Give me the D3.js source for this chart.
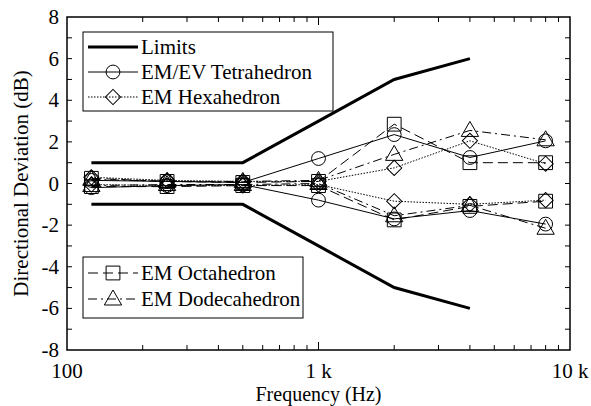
<!DOCTYPE html>
<html>
<head>
<meta charset="utf-8">
<script src="https://cdn.jsdelivr.net/npm/d3@7"></script>
<style>
  body { margin: 0; background: #fff; }
  svg text { font-family: "Times New Roman", Times, "Liberation Serif", "Nimbus Roman", "DejaVu Serif", "Noto Serif", serif; }
</style>
</head>
<body>
<svg id="chart" width="591" height="406"></svg>
<script>
// frequencies of the measured bands (Hz)
var freqs = [125, 250, 500, 1000, 2000, 4000, 8000];

// limit curves (dB)
var limitFreqs = [125, 250, 500, 1000, 2000, 4000];
var limitUpper = [1, 1, 1, 3, 5, 6];
var limitLower = [-1, -1, -1, -3, -5, -6];

// max / min directional deviation for each source (dB)
var tetraUpper = [0.15, 0.1, 0.05, 1.2, 2.35, 1.25, 2.05];
var tetraLower = [-0.2, -0.1, -0.05, -0.8, -1.7, -1.3, -1.95];
var hexaUpper = [0.3, 0.15, 0.1, 0.1, 0.75, 2.05, 0.95];
var hexaLower = [-0.05, -0.1, -0.1, -0.05, -0.85, -1.0, -0.8];
var octaUpper = [0.25, 0.1, 0.05, 0.1, 2.85, 1.0, 1.0];
var octaLower = [-0.15, -0.15, -0.1, -0.1, -1.75, -1.1, -0.85];
var dodecaUpper = [0.2, 0.1, 0.1, 0.15, 1.4, 2.55, 2.1];
var dodecaLower = [-0.1, -0.05, -0.05, 0.0, -1.55, -1.05, -2.15];

var yTicks = [-8, -6, -4, -2, 0, 2, 4, 6, 8];
var xTickLabels = {100: "100", 1000: "1 k", 10000: "10 k"};

var pLeft = 67, pRight = 570, pTop = 17, pBottom = 350;

var svg = d3.select("#chart");
var x = d3.scaleLog().domain([100, 10000]).range([pLeft, pRight]);
var y = d3.scaleLinear().domain([-8, 8]).range([pBottom, pTop]);

var series = [
  {name: "EM/EV Tetrahedron", up: tetraUpper, lo: tetraLower, dash: null, marker: "circle"},
  {name: "EM Hexahedron", up: hexaUpper, lo: hexaLower, dash: "1.5,1.5", marker: "diamond"},
  {name: "EM Octahedron", up: octaUpper, lo: octaLower, dash: "10,5", marker: "square"},
  {name: "EM Dodecahedron", up: dodecaUpper, lo: dodecaLower, dash: "9,4,2,4", marker: "triangle"}
];

var symbolSize = {circle: 150, diamond: 115, square: 190, triangle: 130};
function markerPath(kind) {
  var t = {circle: d3.symbolCircle, diamond: d3.symbolSquare, square: d3.symbolSquare, triangle: d3.symbolTriangle}[kind];
  return d3.symbol().type(t).size(symbolSize[kind])();
}
function drawMarker(g, kind, cx, cy) {
  var p = g.append("path")
    .attr("d", markerPath(kind))
    .attr("fill", "none")
    .attr("stroke", "#000")
    .attr("stroke-width", 1);
  if (kind === "diamond") {
    p.attr("transform", "translate(" + cx + "," + cy + ") rotate(45)");
  } else if (kind === "triangle") {
    p.attr("transform", "translate(" + cx + "," + (cy + 1) + ")");
  } else {
    p.attr("transform", "translate(" + cx + "," + cy + ")");
  }
}

var line = d3.line().x(function(d) { return x(d[0]); }).y(function(d) { return y(d[1]); });

// limits
[limitUpper, limitLower].forEach(function(vals) {
  svg.append("path")
    .attr("d", line(limitFreqs.map(function(f, i) { return [f, vals[i]]; })))
    .attr("fill", "none").attr("stroke", "#000").attr("stroke-width", 3);
});

// data series
series.forEach(function(s) {
  [s.up, s.lo].forEach(function(vals) {
    var pts = freqs.map(function(f, i) { return [f, vals[i]]; });
    svg.append("path")
      .attr("d", line(pts))
      .attr("fill", "none").attr("stroke", "#000").attr("stroke-width", 1)
      .attr("stroke-dasharray", s.dash);
    var g = svg.append("g");
    pts.forEach(function(p) { drawMarker(g, s.marker, x(p[0]), y(p[1])); });
  });
});

// frame
svg.append("rect")
  .attr("x", pLeft).attr("y", pTop).attr("width", pRight - pLeft).attr("height", pBottom - pTop)
  .attr("fill", "none").attr("stroke", "#000").attr("stroke-width", 1.5);

// y ticks (every 1 dB, inside on both sides)
var ax = svg.append("g").attr("stroke", "#000").attr("stroke-width", 1);
d3.range(-7, 8).forEach(function(v) {
  ax.append("line").attr("x1", pLeft).attr("x2", pLeft + 5).attr("y1", y(v)).attr("y2", y(v));
  ax.append("line").attr("x1", pRight).attr("x2", pRight - 5).attr("y1", y(v)).attr("y2", y(v));
});
// x ticks (log minors inside, bottom and top)
x.ticks().forEach(function(v) {
  if (v === 100 || v === 10000) return;
  var len = (v === 1000) ? 8 : 5;
  ax.append("line").attr("x1", x(v)).attr("x2", x(v)).attr("y1", pBottom).attr("y2", pBottom - len);
  ax.append("line").attr("x1", x(v)).attr("x2", x(v)).attr("y1", pTop).attr("y2", pTop + len);
});

// tick labels
yTicks.forEach(function(v) {
  svg.append("text").attr("x", pLeft - 8).attr("y", y(v) + 7)
    .attr("text-anchor", "end").attr("font-size", 21).text(v);
});
[100, 1000, 10000].forEach(function(v) {
  svg.append("text").attr("x", x(v)).attr("y", 378)
    .attr("text-anchor", "middle").attr("font-size", 21).text(xTickLabels[v]);
});

// axis titles
svg.append("text").attr("x", (pLeft + pRight) / 2).attr("y", 401)
  .attr("text-anchor", "middle").attr("font-size", 20).text("Frequency (Hz)");
svg.append("text").attr("transform", "translate(28," + y(0) + ") rotate(-90)")
  .attr("text-anchor", "middle").attr("font-size", 21).text("Directional Deviation (dB)");

// legends
function legend(items, bx, by, bw, bh, rowY) {
  svg.append("rect").attr("x", bx).attr("y", by).attr("width", bw).attr("height", bh)
    .attr("fill", "#fff").attr("stroke", "#000").attr("stroke-width", 1);
  items.forEach(function(it, i) {
    var ly = rowY[i];
    var g = svg.append("g");
    g.append("line").attr("x1", bx + 5).attr("x2", bx + 55).attr("y1", ly).attr("y2", ly)
      .attr("stroke", "#000")
      .attr("stroke-width", it.limit ? 3 : 1)
      .attr("stroke-dasharray", it.dash || null);
    if (it.marker) drawMarker(g, it.marker, bx + 30, ly);
    svg.append("text").attr("x", bx + 58).attr("y", ly + 7).attr("font-size", 21).text(it.name);
  });
}
legend([{name: "Limits", limit: true}, series[0], series[1]], 83, 32, 250, 79, [47, 72, 97]);
legend([series[2], series[3]], 83, 257, 220, 61, [273, 299]);
</script>
</body>
</html>
